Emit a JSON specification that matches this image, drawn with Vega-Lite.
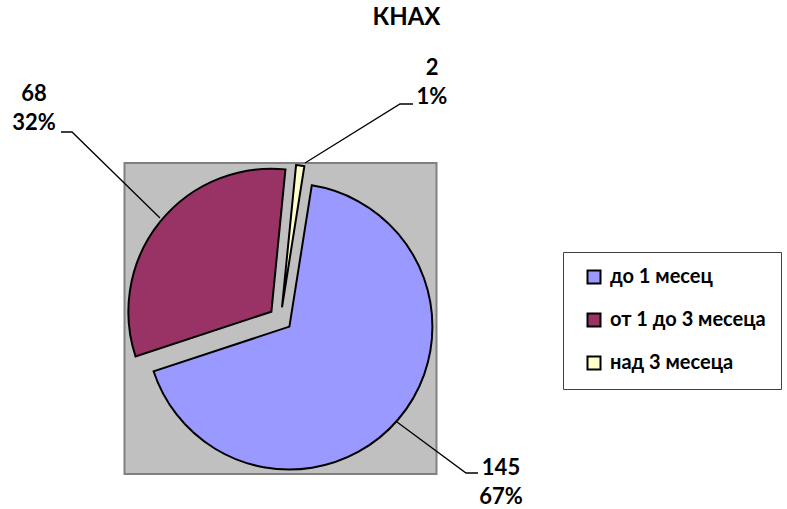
{
  "$schema": "https://vega.github.io/schema/vega-lite/v6.json",
  "width": 787,
  "height": 509,
  "autosize": "none",
  "padding": 0,
  "background": "#ffffff",
  "title": {"text": "КНАХ", "anchor": "middle", "offset": -25, "baseline": "alphabetic", "dx": 13, "dy": 24, "font": "Lato", "fontSize": 24, "fontWeight": "bold", "color": "#000000"},
  "datasets": {
    "slices": [
      {"period": "до 1 месец", "count": 145},
      {"period": "от 1 до 3 месеца", "count": 68},
      {"period": "над 3 месеца", "count": 2}
    ],
    "callouts": [
      {"period": "до 1 месец", "lx": 501, "ly": 475},
      {"period": "от 1 до 3 месеца", "lx": 34, "ly": 101},
      {"period": "над 3 месеца", "lx": 432, "ly": 75}
    ],
    "leaders": [
      {"period": "до 1 месец", "seq": 1, "x": 397, "y": 422},
      {"period": "до 1 месец", "seq": 2, "x": 466, "y": 473},
      {"period": "до 1 месец", "seq": 3, "x": 478, "y": 473},
      {"period": "от 1 до 3 месеца", "seq": 1, "x": 160, "y": 218},
      {"period": "от 1 до 3 месеца", "seq": 2, "x": 72, "y": 132},
      {"period": "от 1 до 3 месеца", "seq": 3, "x": 61, "y": 132},
      {"period": "над 3 месеца", "seq": 1, "x": 305, "y": 163},
      {"period": "над 3 месеца", "seq": 2, "x": 400, "y": 104},
      {"period": "над 3 месеца", "seq": 3, "x": 413, "y": 104}
    ],
    "plotarea": [{"area": "plot"}]
  },
  "layer": [
    {
      "data": {"name": "plotarea"},
      "transform": [
        {"calculate": "280.5 - 156", "as": "x0"},
        {"calculate": "280.5 + 156", "as": "x1"},
        {"calculate": "318.5 - 155.5", "as": "y0"},
        {"calculate": "318.5 + 155.5", "as": "y1"}
      ],
      "mark": {"type": "rect", "fill": "#C0C0C0", "stroke": "#808080", "strokeWidth": 2},
      "encoding": {
        "x": {"field": "x0", "type": "quantitative", "scale": {"domain": [0, 787], "range": [0, 787], "nice": false, "zero": false}, "axis": null},
        "x2": {"field": "x1"},
        "y": {"field": "y0", "type": "quantitative", "scale": {"domain": [0, 509], "range": [0, 509], "nice": false, "zero": false}, "axis": null},
        "y2": {"field": "y1"}
      }
    },
    {
      "data": {"name": "leaders"},
      "mark": {"type": "line", "stroke": "#000000", "strokeWidth": 1.3, "interpolate": "linear"},
      "encoding": {
        "x": {"field": "x", "type": "quantitative", "axis": null},
        "y": {"field": "y", "type": "quantitative", "axis": null},
        "detail": {"field": "period"},
        "order": {"field": "seq"}
      }
    },
    {
      "data": {"name": "slices"},
      "transform": [
        {"window": [{"op": "row_number", "as": "rank"}]},
        {"joinaggregate": [{"op": "sum", "field": "count", "as": "total"}]},
        {"window": [{"op": "sum", "field": "count", "as": "cum"}], "sort": [{"field": "rank"}], "frame": [null, 0]},
        {"calculate": "PI/20 + 2*PI*(datum.cum - datum.count)/datum.total", "as": "a0"},
        {"calculate": "PI/20 + 2*PI*datum.cum/datum.total", "as": "a1"},
        {"calculate": "(datum.a0 + datum.a1)/2", "as": "mid"},
        {"calculate": "280.5 + 11.7*sin(datum.mid)", "as": "cx"},
        {"calculate": "319 - 11.7*cos(datum.mid)", "as": "cy"}
      ],
      "mark": {"type": "arc", "outerRadius": 143, "stroke": "#000000", "strokeWidth": 2, "strokeJoin": "miter"},
      "encoding": {
        "x": {"field": "cx", "type": "quantitative", "axis": null},
        "y": {"field": "cy", "type": "quantitative", "axis": null},
        "theta": {"field": "a0", "type": "quantitative", "scale": null, "stack": null},
        "theta2": {"field": "a1"},
        "color": {
          "field": "period",
          "type": "nominal",
          "scale": {"domain": ["до 1 месец", "от 1 до 3 месеца", "над 3 месеца"], "range": ["#9999FF", "#993366", "#FFFFCC"]},
          "legend": {
            "orient": "none",
            "legendX": 563,
            "legendY": 252,
            "title": null,
            "symbolType": "square",
            "symbolSize": 169,
            "symbolStrokeColor": "#000000",
            "symbolStrokeWidth": 2,
            "symbolOpacity": 1,
            "labelFont": "Lato",
            "labelFontSize": 20,
            "labelFontWeight": "bold",
            "labelColor": "#000000",
            "labelOffset": 6,
            "rowPadding": 21,
            "padding": 15,
            "strokeColor": "#404040",
            "symbolOffset": 6
          }
        }
      }
    },
    {
      "data": {"name": "slices"},
      "transform": [
        {"joinaggregate": [{"op": "sum", "field": "count", "as": "total"}]},
        {"calculate": "[format(datum.count, 'd'), format(datum.count/datum.total, '.0%')]", "as": "label"},
        {"lookup": "period", "from": {"data": {"name": "callouts"}, "key": "period", "fields": ["lx", "ly"]}}
      ],
      "mark": {"type": "text", "font": "Lato", "fontSize": 22, "fontWeight": "bold", "color": "#000000", "align": "center", "baseline": "alphabetic", "lineHeight": 28.5},
      "encoding": {
        "x": {"field": "lx", "type": "quantitative", "axis": null},
        "y": {"field": "ly", "type": "quantitative", "axis": null},
        "text": {"field": "label"}
      }
    }
  ],
  "config": {
    "view": {"stroke": null},
    "font": "Lato"
  }
}
